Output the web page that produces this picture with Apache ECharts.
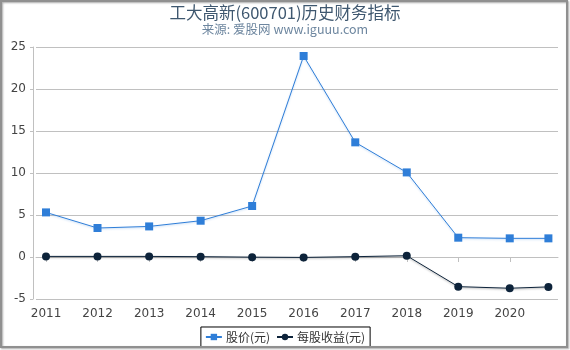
<!DOCTYPE html>
<html>
<head>
<meta charset="utf-8">
<script src="https://cdn.jsdelivr.net/npm/echarts@6/dist/echarts.min.js"></script>
<style>
html,body{margin:0;padding:0;background:#fff;}
#chart{width:570px;height:350px;}
</style>
</head>
<body>
<div id="chart"></div>
<script>
var dates = ['2011-01-01','2012-01-01','2013-01-01','2014-01-01','2015-01-01','2016-01-01','2017-01-01','2018-01-01','2019-01-01','2020-01-01','2020-10-01'];
var price = [5.31, 3.45, 3.64, 4.32, 6.07, 23.93, 13.65, 10.07, 2.3, 2.22, 2.22];
var eps = [0.07, 0.07, 0.07, 0.04, -0.02, -0.05, 0.04, 0.15, -3.53, -3.72, -3.56];
var yTicks = [-5, 0, 5, 10, 15, 20, 25];
var titleText = '工大高新(600701)历史财务指标';
var subText = '来源: 爱股网 www.iguuu.com';
var seriesNames = ['股价(元)', '每股收益(元)'];

function pairs(vals){ return dates.map(function(d,i){ return [d, vals[i]]; }); }

var chart = echarts.init(document.getElementById('chart'), null, {renderer:'canvas'});
chart.setOption({
  animation: false,
  backgroundColor: '#fff',
  title: {
    text: titleText,
    subtext: subText,
    left: 'center',
    top: -1,
    itemGap: 2,
    textStyle: {fontSize: 16.5, fontWeight: 'normal', color: '#3E576F', fontFamily: 'Noto Sans CJK SC'},
    subtextStyle: {fontSize: 12.5, color: '#6D869F', fontFamily: 'Noto Sans CJK SC'}
  },
  graphic: [{
    type: 'rect', silent: true, z: 100,
    shape: {x: 1, y: 1, width: 566, height: 346},
    style: {fill: 'none', stroke: '#909090', lineWidth: 2, shadowColor: 'rgba(0,0,0,0.35)', shadowOffsetX: 1, shadowOffsetY: 1, shadowBlur: 2}
  }],
  legend: {
    bottom: 3,
    left: 'center',
    borderColor: '#000',
    borderWidth: 1,
    borderRadius: 0,
    padding: [4, 5, 4, 4],
    itemGap: 6,
    itemWidth: 16,
    itemHeight: 8,
    textStyle: {fontSize: 12, color: '#333', fontFamily: 'Noto Sans CJK SC', padding: [0,0,0,-1]},
    data: seriesNames
  },
  grid: {left: 36, right: 12, top: 47, bottom: 51, containLabel: false},
  xAxis: {
    type: 'time',
    min: '2010-10-22',
    max: '2020-12-08',
    splitNumber: 10,
    minInterval: 365 * 24 * 3600 * 1000,
    offset: 5,
    axisLine: {show: true, lineStyle: {color: '#c0c0c0', width: 1}},
    axisTick: {show: true, length: 5, lineStyle: {color: '#c0c0c0'}},
    splitLine: {show: false},
    axisLabel: {
      formatter: '{yyyy}',
      fontSize: 12, color: '#444', margin: 4, fontFamily: 'DejaVu Sans',
      showMinLabel: false, showMaxLabel: false
    }
  },
  yAxis: {
    type: 'value',
    min: yTicks[0],
    max: yTicks[yTicks.length - 1],
    interval: 5,
    offset: 3,
    axisLine: {show: true, lineStyle: {color: '#c0c0c0', width: 1}},
    axisTick: {show: true, length: 3, lineStyle: {color: '#c0c0c0'}},
    splitLine: {show: true, lineStyle: {color: '#c0c0c0', width: 1}},
    axisLabel: {fontSize: 12, color: '#444', margin: 7, fontFamily: 'DejaVu Sans'}
  },
  series: [
    {
      name: seriesNames[0],
      type: 'line',
      data: pairs(price),
      symbol: 'rect',
      symbolSize: 8,
      color: '#2f7ed8',
      lineStyle: {width: 1, color: '#2f7ed8', shadowColor: 'rgba(47,126,216,0.3)', shadowBlur: 2, shadowOffsetY: 1},
      itemStyle: {color: '#2f7ed8'}
    },
    {
      name: seriesNames[1],
      type: 'line',
      data: pairs(eps),
      symbol: 'circle',
      symbolSize: 8,
      color: '#0d233a',
      lineStyle: {width: 1, color: '#0d233a', shadowColor: 'rgba(0,0,0,0.35)', shadowBlur: 2, shadowOffsetY: 1},
      itemStyle: {color: '#0d233a'}
    }
  ]
});
</script>
</body>
</html>
